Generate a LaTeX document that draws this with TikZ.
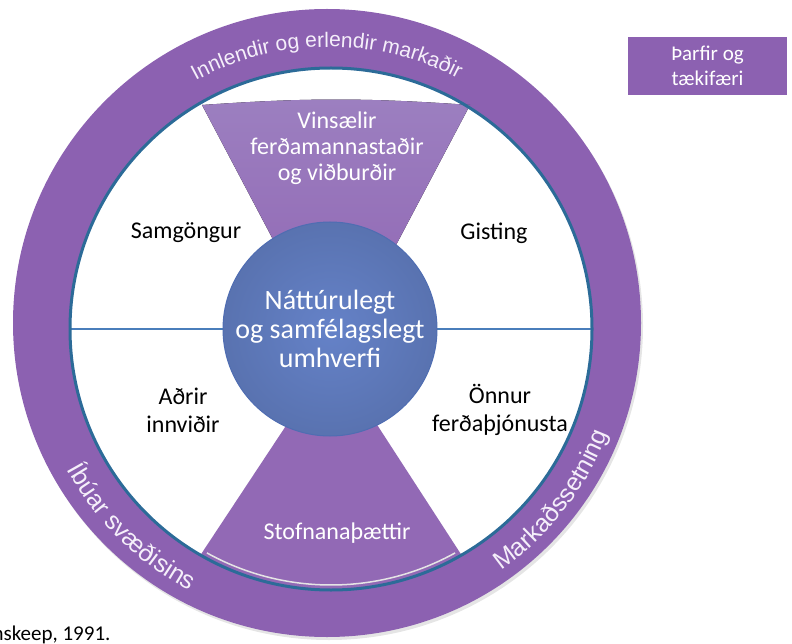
\documentclass[tikz,border=0pt]{standalone}
\usepackage{fontspec}
\setmainfont{Carlito}
\newfontfamily\ringfont{Liberation Sans}
\usetikzlibrary{decorations.text}

\definecolor{ringpurple}{HTML}{8C61B1}
\definecolor{wedgepurple}{HTML}{9171B9}
\definecolor{hubblue}{HTML}{6582C8}
\definecolor{hubedge}{HTML}{4F6DB2}
\definecolor{rimteal}{HTML}{2C6B98}
\definecolor{spokeblue}{HTML}{4A7EBB}
\definecolor{ringtext}{HTML}{F5EFFA}

\tikzset{
  ringbody/.style={circle, inner sep=0pt, minimum size=628pt, fill=ringpurple},
  whitedisc/.style={circle, inner sep=0pt, minimum size=522pt, fill=white},
  rimline/.style={draw=rimteal, line width=3pt},
  spoke/.style={draw=spokeblue, line width=1.5pt},
  hubdisc/.style={circle, inner sep=0pt, minimum size=214pt, shade, inner color=hubblue, outer color=hubblue!88!black, draw=hubedge, line width=1pt, text=white, align=center, font=\fontsize{28}{29}\selectfont},
  sectortext/.style={align=center, text=black, font=\fontsize{24}{28}\selectfont},
  wedgetext/.style={align=center, text=white, font=\fontsize{24}{26}\selectfont},
  needsbox/.style={rectangle, fill=ringpurple, minimum width=159pt, minimum height=58pt, align=center, text=white, font=\fontsize{21}{25}\selectfont},
  ringlabel/.style={decorate, decoration={text along path, text align=center, text={|\ringfont\fontsize{21}{21}\selectfont\color{ringtext}|#1}}},
  ringlabelbig/.style={decorate, decoration={text along path, text align=center, text={|\ringfont\fontsize{25}{25}\selectfont\color{ringtext}|#1}}}
}

\begin{document}
\begin{tikzpicture}[x=1pt, y=1pt]
  \useasboundingbox (0,0) rectangle (792,-644);
  % Define nodes
  \fill[black, opacity=0.10] (329,-326) circle[radius=314];
  \node[ringbody] (outer) at (327,-323) {};
  \node[whitedisc] (inner) at (331,-329) {};
  \coordinate (ringc) at (329,-326);
  % Wedges
  \fill[top color=wedgepurple!90!white, bottom color=ringpurple!95!white] (202,-105) to[bend left=4] (470,-105) -- (367,-300) -- (305,-300) -- cycle;
  \fill[ringpurple!95!white] (inner.center) ++(-60:261) arc[start angle=-60, end angle=-120, radius=261] -- (303,-400) -- (361,-400) -- cycle;
  \draw[white!80!gray, line width=1.5pt] (inner.center) ++(-61:256) arc[start angle=-61, end angle=-119, radius=256];
  % Connect the nodes
  \draw[spoke] (inner.west) -- (inner.east);
  \draw[rimline] (inner.center) circle[radius=261];
  \node[hubdisc] (hub) at (330,-329) {Náttúrulegt\\og samfélagslegt\\umhverfi};
  % Labels
  \node[sectortext] (samgongur) at (186,-233) {Samgöngur};
  \node[sectortext] (gisting) at (494,-233) {Gisting};
  \node[sectortext] (adrir) at (183,-410) {Aðrir\\innviðir};
  \node[sectortext] (onnur) at (500,-410) {Önnur\\ferðaþjónusta};
  \node[wedgetext] (vinsaelir) at (337,-148) {Vinsælir\\ferðamannastaðir\\og viðburðir};
  \node[wedgetext] (stofnana) at (337,-533) {Stofnanaþættir};
  \node[needsbox] (needs) at (707.5,-66) {Þarfir og\\tækifæri};
  \node[anchor=base east, font=\fontsize{21}{21}\selectfont] (source) at (114,-640) {Inskeep, 1991.};
  % Ring texts
  \path[ringlabel={Innlendir og erlendir markaðir}] (ringc) ++(125:279) arc[start angle=125, end angle=56, radius=279];
  \path[ringlabelbig={Íbúar svæðisins}] (ringc) ++(200:299) arc[start angle=200, end angle=251, radius=299];
  \path[ringlabelbig={Markaðssetning}] (ringc) ++(297:299) arc[start angle=297, end angle=347, radius=299];
\end{tikzpicture}
\end{document}
